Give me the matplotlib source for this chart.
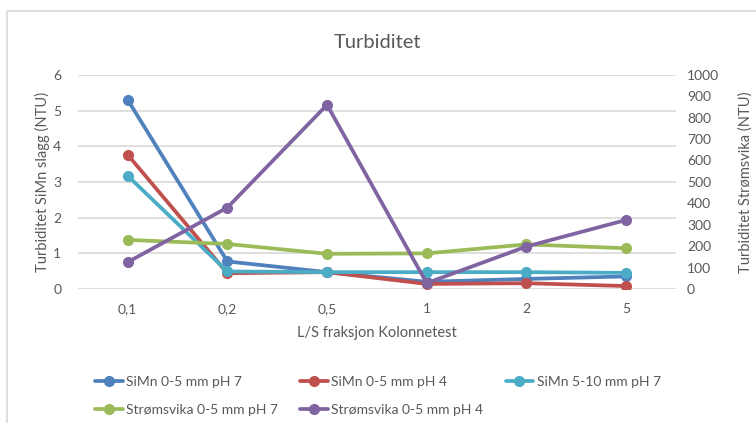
import matplotlib
matplotlib.use("Agg")
import matplotlib.pyplot as plt
from matplotlib.patches import Rectangle

plt.rcParams['font.family'] = ['Lato', 'DejaVu Sans']

# L/S fractions (categories on the x axis)
categories = ['0,1', '0,2', '0,5', '1', '2', '5']

# SiMn slag series (left axis, NTU)
simn_05_ph7 = [5.30, 0.77, 0.47, 0.20, 0.28, 0.35]
simn_05_ph4 = [3.76, 0.44, 0.47, 0.14, 0.16, 0.08]
simn_510_ph7 = [3.17, 0.49, 0.47, 0.47, 0.47, 0.45]

# Strømsvika series (right axis, NTU)
strom_05_ph7 = [229, 210, 164, 166, 208, 190]
strom_05_ph4 = [125, 380, 860, 27, 198, 322]

left_ticks = [0, 1, 2, 3, 4, 5, 6]
right_ticks = [0, 100, 200, 300, 400, 500, 600, 700, 800, 900, 1000]

c_blue = '#4F81BD'
c_red = '#C0504D'
c_cyan = '#4BACC6'
c_green = '#9BBB59'
c_purple = '#8064A2'
txt = '#595959'
grid = '#D9D9D9'

fig = plt.figure(figsize=(7.56, 4.23), dpi=100)
ax = fig.add_axes([0.103, 0.317, 0.791, 0.506])
ax2 = ax.twinx()

x = list(range(len(categories)))
style = dict(lw=2.7, marker='o', ms=7, solid_capstyle='round')

h1, = ax.plot(x, simn_05_ph7, color=c_blue, label='SiMn 0-5 mm pH 7', **style)
h2, = ax.plot(x, simn_05_ph4, color=c_red, label='SiMn 0-5 mm pH 4', **style)
h3, = ax.plot(x, simn_510_ph7, color=c_cyan, label='SiMn 5-10 mm pH 7', **style)
h4, = ax2.plot(x, strom_05_ph7, color=c_green, label='Strømsvika 0-5 mm pH 7', **style)
h5, = ax2.plot(x, strom_05_ph4, color=c_purple, label='Strømsvika 0-5 mm pH 4', **style)

ax.set_xlim(-0.5, len(categories) - 0.5)
ax.set_ylim(0, 6)
ax2.set_ylim(0, 1000)
ax.set_yticks(left_ticks)
ax2.set_yticks(right_ticks)
ax.set_xticks(x)
ax.set_xticklabels(categories)

ax.yaxis.grid(True, color=grid, lw=1.2)
ax.set_axisbelow(True)
for a in (ax, ax2):
    for s in a.spines.values():
        s.set_visible(False)
    a.tick_params(length=0, colors=txt, labelsize=10)
ax.tick_params(axis='x', pad=10)
ax.tick_params(axis='y', pad=12)
ax2.tick_params(axis='y', pad=8)

ax.set_xlabel('L/S fraksjon Kolonnetest', color=txt, fontsize=10.5, labelpad=8)
ax.set_ylabel('Turbiditet SiMn slagg (NTU)', color=txt, fontsize=10.5, labelpad=2)
ax2.set_ylabel('Turbiditet Strømsvika (NTU)', color=txt, fontsize=10.5, labelpad=14)
fig.text(0.5, 0.9, 'Turbiditet', ha='center', va='center', color=txt, fontsize=14.5)

# legend: columns filled top-to-bottom, so order handles to get the row layout
fig.legend(handles=[h1, h4, h2, h5, h3], loc='upper left',
           bbox_to_anchor=(0.118, 0.125), ncol=3, frameon=False,
           fontsize=10, labelcolor=txt, handlelength=2.0, handletextpad=0.25,
           columnspacing=1.6, labelspacing=1.2, borderaxespad=0)

# chart area border
fig.patches.append(Rectangle((7 / 756, -0.2), 1.2, 1.2 - 11 / 423,
                             transform=fig.transFigure, fill=False,
                             edgecolor=grid, lw=1.2))

fig.savefig('out.png', dpi=100, facecolor='white')
